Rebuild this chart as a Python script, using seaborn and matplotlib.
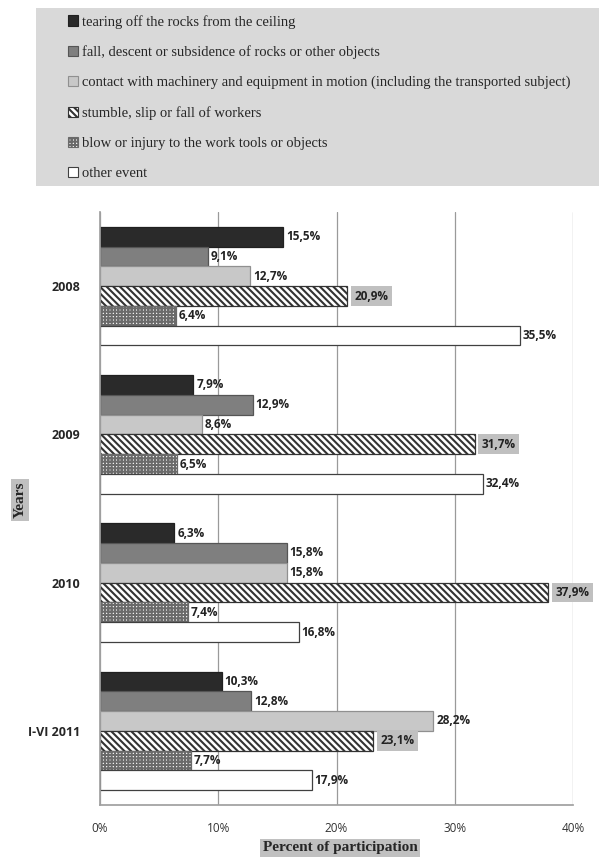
import matplotlib
matplotlib.use("Agg")
import matplotlib.pyplot as plt
from matplotlib.patches import Patch, Rectangle
import seaborn as sns
import pandas as pd

years = ["2008", "2009", "2010", "I-VI 2011"]
categories = [
    "tearing off the rocks from the ceiling",
    "fall, descent or subsidence of rocks or other objects",
    "contact with machinery and equipment in motion (including the transported subject)",
    "stumble, slip or fall of workers",
    "blow or injury to the work tools or objects",
    "other event",
]
tearing = [15.5, 7.9, 6.3, 10.3]
fall = [9.1, 12.9, 15.8, 12.8]
contact = [12.7, 8.6, 15.8, 28.2]
stumble = [20.9, 31.7, 37.9, 23.1]
blow = [6.4, 6.5, 7.4, 7.7]
other = [35.5, 32.4, 16.8, 17.9]
series = [tearing, fall, contact, stumble, blow, other]

rows = []
for cat, vals in zip(categories, series):
    for y, v in zip(years, vals):
        rows.append({"Year": y, "Event": cat, "Value": v})
df = pd.DataFrame(rows)

sns.set_theme(style="white")
plt.rcParams["hatch.linewidth"] = 1.5

faces = ["#2a2a2a", "#7f7f7f", "#c8c8c8", "#ffffff", "#ffffff", "#ffffff"]
edges = ["#202020", "#555555", "#909090", "#333333", "#6a6a6a", "#404040"]
hatches = [None, None, None, "\\\\\\\\\\", "+++++", None]

fig = plt.figure(figsize=(5.99, 8.59), dpi=100)
fig.patches.append(Rectangle((36 / 599, 1 - 186 / 859), 563 / 599, 178 / 859,
                             facecolor="#d9d9d9", edgecolor="none",
                             transform=fig.transFigure, zorder=0))
ax = fig.add_axes([100 / 599, 54 / 859, 473 / 599, 593 / 859])

sns.barplot(data=df, y="Year", x="Value", hue="Event", order=years,
            hue_order=categories, orient="h", palette=faces, ax=ax,
            legend=False, width=0.8, saturation=1)

for i, cont in enumerate(ax.containers):
    for bar in cont:
        bar.set_edgecolor(edges[i])
        bar.set_linewidth(0.9)
        if hatches[i]:
            bar.set_hatch(hatches[i])
    labels = [f"{v:.1f}%".replace(".", ",") for v in cont.datavalues]
    if i == 3:
        ax.bar_label(cont, labels=labels, padding=5, fontsize=8.5,
                     fontweight="bold", family="Open Sans", color="#222222",
                     bbox=dict(facecolor="#c0c0c0", edgecolor="none", pad=2.5))
    else:
        ax.bar_label(cont, labels=labels, padding=2, fontsize=8.5,
                     fontweight="bold", family="Open Sans", color="#222222")

ax.set_xlim(0, 40)
ax.set_xticks([0, 10, 20, 30, 40])
ax.set_xticklabels(["0%", "10%", "20%", "30%", "40%"], family="Open Sans",
                   fontsize=8.5, color="#333333")
ax.set_yticks(range(len(years)))
ax.set_yticklabels(years, family="Open Sans", fontsize=9, fontweight="bold")
ax.tick_params(axis="x", pad=6)
ax.tick_params(axis="y", pad=8)
ax.grid(axis="x", color="#9a9a9a", linewidth=0.9)
ax.set_axisbelow(True)
for s in ["top", "right"]:
    ax.spines[s].set_visible(False)
for s in ["left", "bottom"]:
    ax.spines[s].set_color("#a0a0a0")
ax.set_xlabel("")
ax.set_ylabel("")

fig.text(340 / 599, 1 - 848 / 859, "Percent of participation", ha="center",
         va="center", family="Liberation Serif", fontweight="bold", fontsize=11,
         bbox=dict(facecolor="#c0c0c0", edgecolor="none", pad=2))
fig.text(20 / 599, 1 - 500 / 859, "Years", ha="center", va="center",
         rotation=90, family="Liberation Serif", fontweight="bold", fontsize=11,
         bbox=dict(facecolor="#c0c0c0", edgecolor="none", pad=2))

handles = [Patch(facecolor=faces[i], edgecolor=edges[i], hatch=hatches[i],
                 linewidth=0.8) for i in range(len(categories))]
fig.legend(handles, categories, loc="upper left",
           bbox_to_anchor=(62 / 599, 1 - 9 / 859), frameon=False,
           prop={"family": "Liberation Serif", "size": 10.5},
           handlelength=0.7, handleheight=0.7, handletextpad=0.3,
           labelspacing=1.15, borderaxespad=0)

fig.savefig("out.png", dpi=100)
